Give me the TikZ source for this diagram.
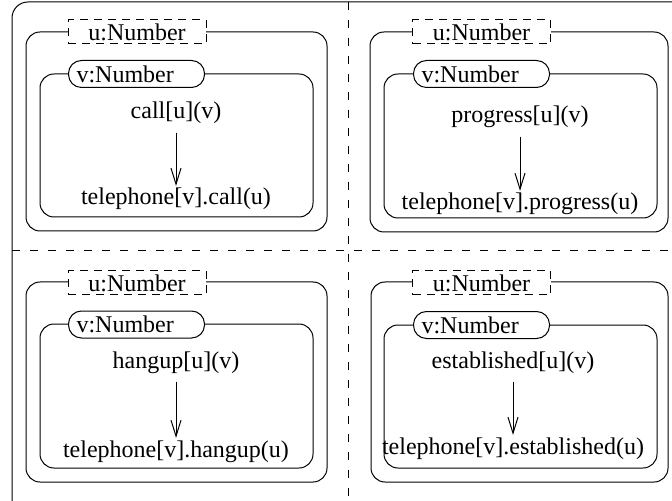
\documentclass[tikz,border=0pt]{standalone}
\usepackage{fontspec}
\setmainfont{Liberation Serif}
\usetikzlibrary{arrows.meta}
\begin{document}
\begin{tikzpicture}[x=0.5pt,y=-0.5pt,
  line width=0.5pt,
  box/.style={rounded corners=7pt},
  ulabel/.style={draw,dash pattern=on 4pt off 3pt,fill=white,minimum width=69pt,minimum height=12pt,inner sep=0pt,font=\fontsize{12}{14}\selectfont},
  vlabel/.style={draw,fill=white,rounded corners=6.5pt,minimum height=13.5pt,text width=60pt,inner xsep=4pt,inner ysep=0pt,align=left,anchor=west,font=\fontsize{12}{14}\selectfont},
  txt/.style={inner sep=0pt,anchor=base,font=\fontsize{12}{14}\selectfont},
  arr/.style={-{Straight Barb[length=8pt,width=5pt]},shorten <=4pt,shorten >=1pt},
  sep/.style={dash pattern=on 4pt off 5pt}
]
\useasboundingbox (0,0) rectangle (672,501);
\clip (0,0) rectangle (672,501);
\draw[rounded corners=8pt] (12,2) rectangle (720,540);
\draw[sep] (348,2) -- (348,501);
\draw[sep] (12,251) -- (672,251);

% top left
\draw[box] (26,32) rectangle (327,231);
\node[ulabel] (u1) at (137,32) {u:Number};
\draw[box] (40,74) rectangle (313,217);
\node[vlabel] (v1) at (68,74) {v:Number};
\node[txt] (a1) at (176,119) {call[u](v)};
\node[txt] (b1) at (176,205) {telephone[v].call(u)};
\draw[arr] (a1.south) -- (b1.north);

% top right
\draw[box] (370,32) rectangle (668,232);
\node[ulabel] (u2) at (481.5,32) {u:Number};
\draw[box] (384,74) rectangle (657,218);
\node[vlabel] (v2) at (413,74) {v:Number};
\node[txt] (a2) at (520,123) {progress[u](v)};
\node[txt] (b2) at (520,210) {telephone[v].progress(u)};
\draw[arr] (a2.south) -- (b2.north);

% bottom left
\draw[box] (26,282) rectangle (327,482);
\node[ulabel] (u3) at (137,283) {u:Number};
\draw[box] (40,324) rectangle (313,468);
\node[vlabel] (v3) at (68,324.5) {v:Number};
\node[txt] (a3) at (176,368) {hangup[u](v)};
\node[txt] (b3) at (176,457) {telephone[v].hangup(u)};
\draw[arr] (a3.south) -- (b3.north);

% bottom right
\draw[box] (371,282) rectangle (668,482);
\node[ulabel] (u4) at (481.5,283) {u:Number};
\draw[box] (384,325) rectangle (657,468);
\node[vlabel] (v4) at (413,325) {v:Number};
\node[txt] (a4) at (513,368) {established[u](v)};
\node[txt] (b4) at (513,454) {telephone[v].established(u)};
\draw[arr] (a4.south) -- (b4.north);
\end{tikzpicture}
\end{document}
